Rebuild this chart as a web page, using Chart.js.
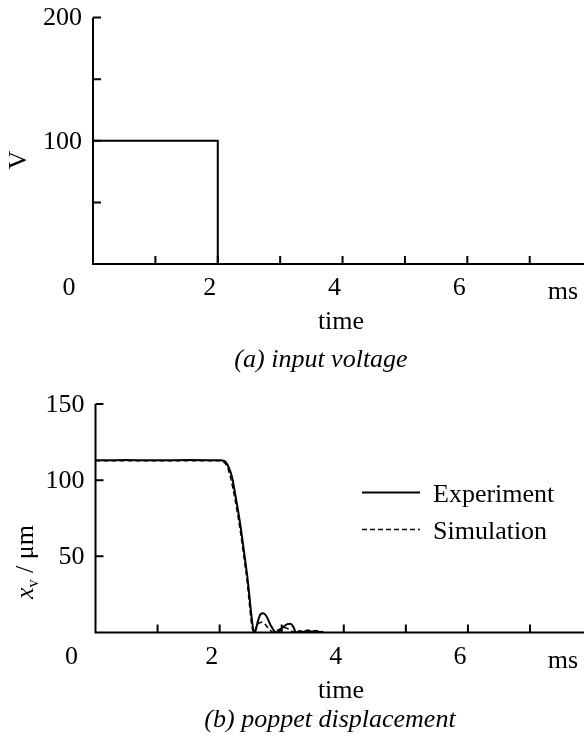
<!DOCTYPE html>
<html>
<head>
<meta charset="utf-8">
<script src="https://cdn.jsdelivr.net/npm/chart.js@4.4.1/dist/chart.umd.min.js"></script>
<style>
    html, body { margin: 0; padding: 0; background: #fff; }
    body { width: 584px; height: 743px; position: relative; overflow: hidden; }
    canvas { position: absolute; left: 0; top: 0; }
</style>
</head>
<body>
<canvas id="voltage" width="584" height="743"></canvas>
<canvas id="poppet" width="584" height="743"></canvas>
<script>
(function () {
    "use strict";

    // (a) input voltage
    const voltTime = [0, 2.0, 2.0, 7.87];
    const voltValue = [100, 100, 0, 0];

    // (b) poppet displacement, µm
    const expTime = [0, 0.5, 1.0, 1.5, 2.0, 2.08, 2.14, 2.2, 2.25, 2.33, 2.44, 2.565,
        2.62, 2.66, 2.7, 2.75, 2.82, 2.91, 2.95, 3.02, 3.09, 3.14, 3.19, 3.23,
        3.29, 3.35, 3.42, 3.48, 3.55, 3.62, 3.67];
    const expValue = [113, 113.3, 113, 113.2, 113, 112.5, 109, 102, 91, 71.5, 38.6, 0,
        8, 12, 12.7, 11, 5, 0, 0.5, 3.5, 5.5, 5.8, 3.5, 0,
        1, 0.3, 1.5, 0.5, 1.2, 0.3, 0.5];
    const simTime = [0, 1.0, 2.0, 2.06, 2.12, 2.18, 2.24, 2.32, 2.43, 2.55,
        2.6, 2.64, 2.68, 2.73, 2.79, 2.87, 2.95, 3.03, 3.1, 3.18, 3.3, 3.45, 3.67];
    const simValue = [112.7, 112.8, 112.7, 112, 109, 101, 89, 70, 38, 0,
        4.5, 6.3, 6.8, 5.5, 2.5, 0, 1.8, 3.3, 2.5, 0.5, 0.3, 0.5, 0.3];

    // ticks
    const timeTicks = [1, 2, 3, 4, 5, 6, 7];
    const timeLabels = [0, 2, 4, 6];
    const voltTicks = [50, 100, 150, 200];
    const voltLabels = [100, 200];
    const dispTicks = [50, 100, 150];
    const dispLabels = [50, 100, 150];

    const serif = "'Liberation Serif', 'Times New Roman', serif";
    const size = "26px ";

    const toPoints = (xs, ys) => xs.map((x, i) => ({ x: x, y: ys[i] }));

    // axes, ticks and texts drawn from the chart's own scales
    const frame = {
        id: "frame",
        afterDatasetsDraw(chart, args, o) {
            const ctx = chart.ctx;
            const sx = chart.scales.x;
            const sy = chart.scales.y;
            const x0 = sx.getPixelForValue(0);
            const y0 = sy.getPixelForValue(0);
            const yTop = sy.getPixelForValue(sy.max);

            ctx.save();
            ctx.strokeStyle = "#000";
            ctx.lineWidth = 2;
            ctx.beginPath();
            ctx.moveTo(x0, yTop);
            ctx.lineTo(x0, y0);
            ctx.lineTo(sx.right, y0);
            o.yTicks.forEach((v) => {
                const p = sy.getPixelForValue(v);
                ctx.moveTo(x0, p);
                ctx.lineTo(x0 + 8, p);
            });
            o.xTicks.forEach((v) => {
                const p = sx.getPixelForValue(v);
                ctx.moveTo(p, y0);
                ctx.lineTo(p, y0 - 8);
            });
            ctx.stroke();

            ctx.fillStyle = "#000";
            ctx.font = size + serif;
            ctx.textAlign = "center";
            ctx.textBaseline = "alphabetic";
            o.xLabels.forEach((v) => {
                const p = sx.getPixelForValue(v) + (v === 0 ? -24 : -8);
                ctx.fillText(String(v), p, y0 + 31);
            });
            ctx.fillText("ms", 563, y0 + 35);
            ctx.fillText("time", 341, y0 + 65);

            ctx.textAlign = "right";
            ctx.textBaseline = "middle";
            o.yLabels.forEach((v) => {
                ctx.fillText(String(v), x0 - 11, sy.getPixelForValue(v) + 1);
            });

            ctx.textAlign = "center";
            ctx.textBaseline = "alphabetic";
            ctx.font = "italic " + size + serif;
            ctx.fillText(o.caption, o.captionX, y0 + o.captionDy);

            // rotated y title
            const parts = o.yTitle;
            ctx.translate(o.yTitleX, o.yTitleY);
            ctx.rotate(-Math.PI / 2);
            ctx.textAlign = "left";
            let w = 0;
            parts.forEach((t) => {
                ctx.font = t.font + " " + serif;
                w += ctx.measureText(t.text).width;
            });
            let cx = -w / 2;
            parts.forEach((t) => {
                ctx.font = t.font + " " + serif;
                ctx.fillText(t.text, cx, t.dy || 0);
                cx += ctx.measureText(t.text).width;
            });
            ctx.restore();

            // legend
            if (o.legend) {
                const lg = o.legend;
                chart.data.datasets.forEach((ds, i) => {
                    const ly = lg.y + i * lg.gap;
                    ctx.save();
                    ctx.strokeStyle = "#000";
                    ctx.lineWidth = ds.borderWidth;
                    ctx.setLineDash(ds.borderDash || []);
                    ctx.beginPath();
                    ctx.moveTo(lg.x, ly);
                    ctx.lineTo(lg.x + lg.len, ly);
                    ctx.stroke();
                    ctx.fillStyle = "#000";
                    ctx.font = size + serif;
                    ctx.textAlign = "left";
                    ctx.textBaseline = "alphabetic";
                    ctx.fillText(ds.label, lg.textX, ly + 9);
                    ctx.restore();
                });
            }
        },
    };

    const baseOptions = (yMax, padding) => ({
        responsive: false,
        animation: false,
        devicePixelRatio: 1,
        events: [],
        layout: { padding: padding },
        plugins: { legend: { display: false }, tooltip: { enabled: false } },
        elements: { point: { radius: 0 } },
        scales: {
            x: { type: "linear", min: 0, max: 7.87, display: false },
            y: { type: "linear", min: 0, max: yMax, display: false },
        },
    });

    // (a) input voltage
    const voltOptions = baseOptions(200, { left: 93, right: 0, top: 17.5, bottom: 743 - 264 });
    voltOptions.plugins.frame = {
        xTicks: timeTicks,
        xLabels: timeLabels,
        yTicks: voltTicks,
        yLabels: voltLabels,
        caption: "(a) input voltage",
        captionX: 321,
        captionDy: 103,
        yTitle: [{ text: "V", font: size }],
        yTitleX: 26,
        yTitleY: 160,
    };
    new Chart(document.getElementById("voltage").getContext("2d"), {
        type: "line",
        data: {
            datasets: [
                {
                    label: "V",
                    data: toPoints(voltTime, voltValue),
                    borderColor: "#000",
                    borderWidth: 2,
                    tension: 0,
                    fill: false,
                },
            ],
        },
        options: voltOptions,
        plugins: [frame],
    });

    // (b) poppet displacement
    const dispOptions = baseOptions(150, { left: 95.5, right: 0, top: 404, bottom: 743 - 632.5 });
    dispOptions.plugins.frame = {
        xTicks: timeTicks,
        xLabels: timeLabels,
        yTicks: dispTicks,
        yLabels: dispLabels,
        caption: "(b) poppet displacement",
        captionX: 330,
        captionDy: 94,
        yTitle: [
            { text: "x", font: "italic " + size },
            { text: "v", font: "16px" },
            { text: " / \u03bcm", font: size },
        ],
        yTitleX: 33,
        yTitleY: 562,
        legend: { x: 362, y: 492.5, gap: 37, len: 58, textX: 433 },
    };
    dispOptions.plugins.frame.yTitle[1].dy = 5;
    new Chart(document.getElementById("poppet").getContext("2d"), {
        type: "line",
        data: {
            datasets: [
                {
                    label: "Experiment",
                    data: toPoints(expTime, expValue),
                    borderColor: "#000",
                    borderWidth: 2,
                    cubicInterpolationMode: "monotone",
                    fill: false,
                },
                {
                    label: "Simulation",
                    data: toPoints(simTime, simValue),
                    borderColor: "#000",
                    borderWidth: 1.5,
                    borderDash: [5, 3],
                    cubicInterpolationMode: "monotone",
                    fill: false,
                },
            ],
        },
        options: dispOptions,
        plugins: [frame],
    });
})();
</script>
</body>
</html>
